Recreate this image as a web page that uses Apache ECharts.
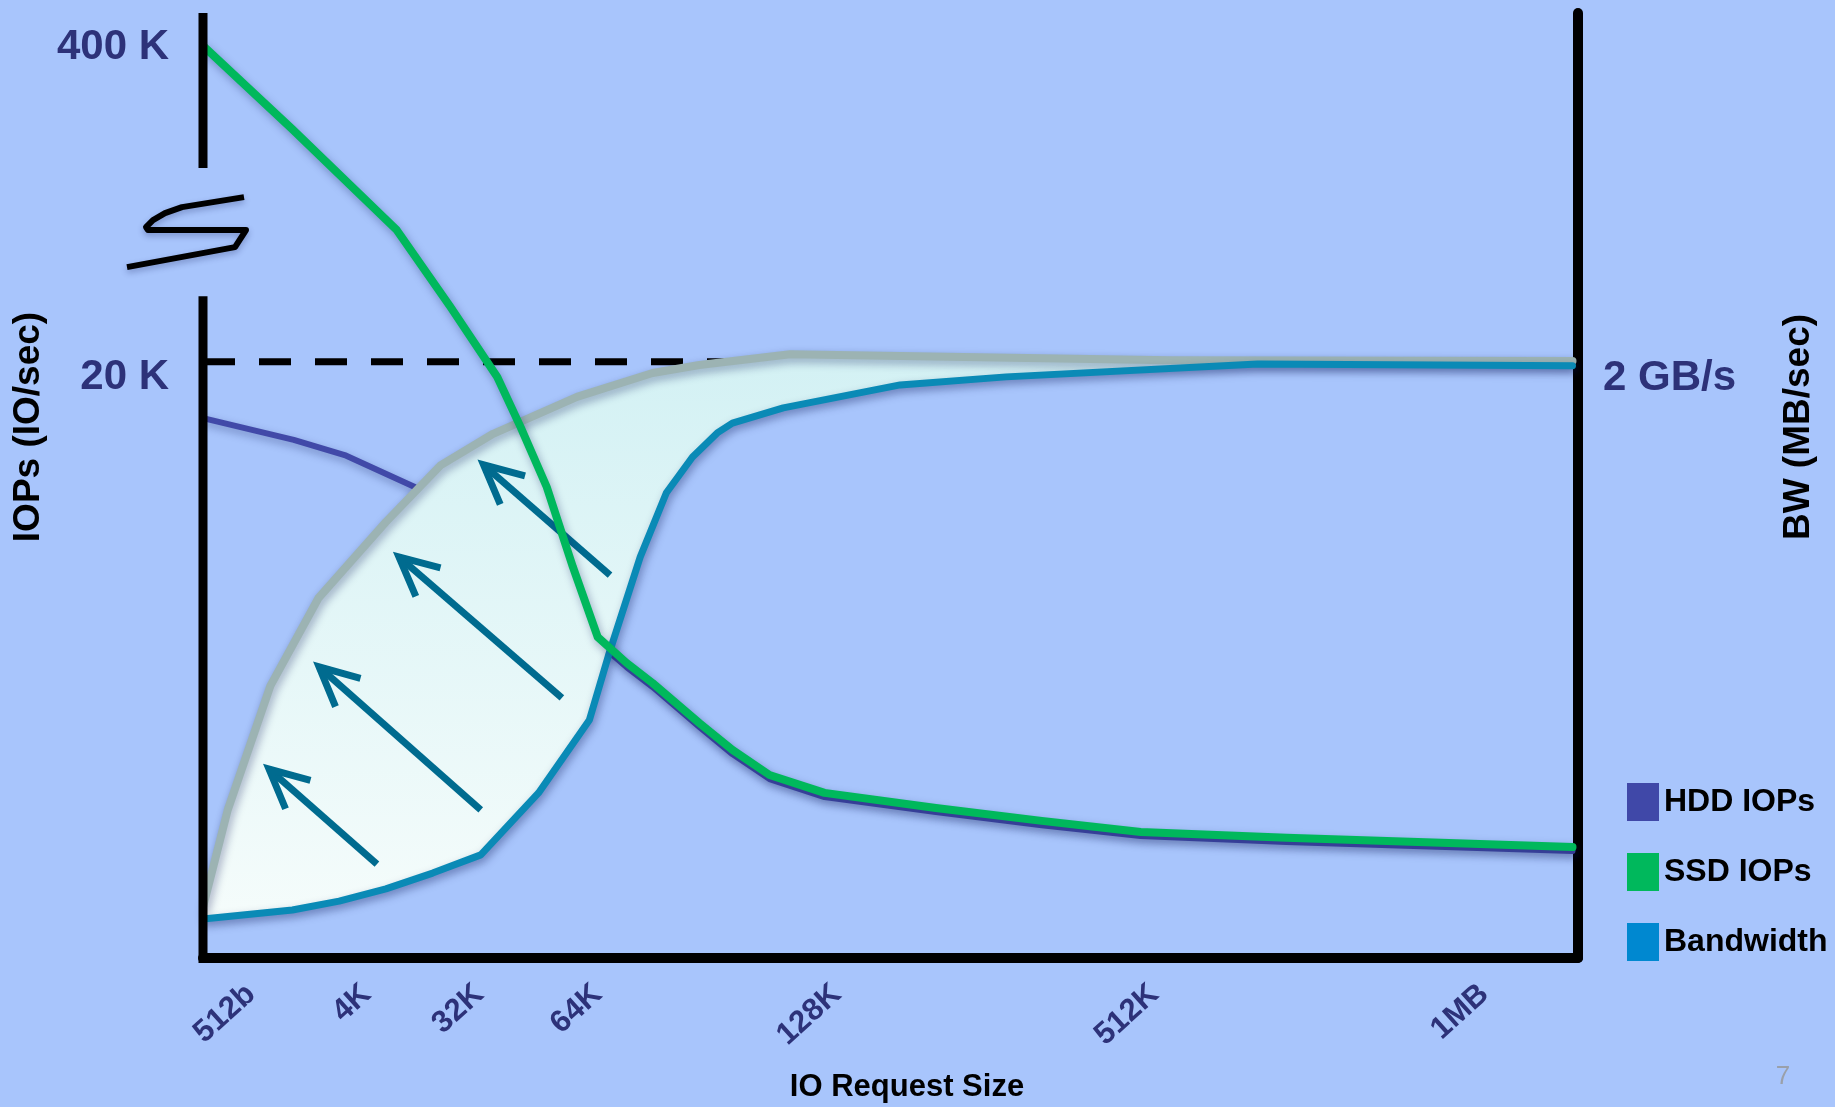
<!DOCTYPE html>
<html>
<head>
<meta charset="utf-8">
<title>IO Request Size vs IOPs and Bandwidth</title>
<script src="https://cdn.jsdelivr.net/npm/echarts@6/dist/echarts.min.js"></script>
<style>
  html, body { margin: 0; padding: 0; background: #a8c5fc; }
  #chart { width: 1835px; height: 1107px; }
</style>
</head>
<body>
<div id="chart"></div>
<script>
const FONT = '"Liberation Sans", Arial, Helvetica, sans-serif';
const NAVY = '#2d3279';

// Request-size axis: positions along the axis (0 = left edge, 100 = right edge)
const sizeLabels   = ['512b', '4K', '32K', '64K', '128K', '512K', '1MB'];
const sizeLabelPos = [3.5, 11.9, 20.1, 28.7, 46.1, 69.2, 93.2];

// SSD IOPs (IO/sec), left axis
const ssdX    = [0, 6.5, 14.1, 18.0, 21.4, 23.1, 25.0, 26.9, 28.7, 30.8, 32.7, 36.1, 38.5, 41.2, 45.2, 53.3, 61.0, 68.2, 78.8, 99.6];
const ssdIops = [400000, 397200, 214600, 21840, 19490, 17810, 15800, 13120, 10770, 9900, 9220, 7880, 6980, 6140, 5540, 5030, 4600, 4230, 4030, 3720];

// HDD IOPs (IO/sec), left axis
const hddX    = [0, 6.6, 10.3, 15.4, 29.2, 30.8, 32.7, 36.1, 38.5, 41.2, 45.2, 53.3, 61.0, 68.2, 78.8, 99.6];
const hddIops = [18110, 17380, 16870, 15800, 10400, 9760, 9090, 7750, 6840, 6000, 5400, 4900, 4450, 4090, 3890, 3590];

// Bandwidth (MB/sec), right axis
const bwX   = [0, 6.5, 9.9, 13.3, 16.7, 20.2, 24.4, 28.1, 29.5, 31.8, 33.7, 35.6, 37.4, 38.5, 42.2, 50.7, 58.4, 76.7, 99.6];
const bwMBs = [131, 161, 191, 232, 285, 346, 554, 799, 1017, 1346, 1561, 1681, 1762, 1795, 1846, 1923, 1950, 1993, 1987];

// Upper edge of the bandwidth gain region (MB/sec), right axis
const gainX   = [0, 1.8, 4.9, 8.4, 13.3, 17.3, 21.1, 27.2, 32.7, 36.1, 42.7, 50.7, 70.3, 99.6];
const gainMBs = [171, 497, 913, 1208, 1463, 1654, 1759, 1883, 1963, 1990, 2026, 2020, 2006, 2003];

// Arrows inside the gain region: [headX, headMBs, tailX, tailMBs]
const gainArrows = [
  [4.8, 634, 12.65, 315],
  [8.44, 977, 20.2, 497],
  [14.25, 1346, 26.1, 873],
  [20.4, 1655, 29.6, 1285]
];

// Axis ticks
const iopsTicks    = [20000, 400000];
const iopsTickText = ['20 K', '400 K'];
const bwTicks      = [2000];
const bwTickText   = ['2 GB/s'];
const iopsMax = 401100;
const iopsBreak = { start: 22200, end: 395900, gap: 4300 };
const bwMax = 3171;
const refIops = 20000;

const zip = (xs, ys) => xs.map((x, i) => [x, ys[i]]);

const lineShadow = {
  shadowColor: 'rgba(15, 25, 90, 0.35)',
  shadowBlur: 8,
  shadowOffsetX: 2,
  shadowOffsetY: 4
};

function renderGainBand(params, api) {
  const top = gainX.map((x, i) => api.coord([x, gainMBs[i]]));
  const bottom = bwX.map((x, i) => api.coord([x, bwMBs[i]])).reverse();
  return {
    type: 'polygon',
    shape: { points: top.concat(bottom) },
    style: {
      fill: new echarts.graphic.LinearGradient(0, 0, 0, 1, [
        { offset: 0, color: '#d3f1f4' },
        { offset: 1, color: '#f5fcfb' }
      ]),
      shadowColor: 'rgba(15, 25, 90, 0.3)',
      shadowBlur: 10,
      shadowOffsetY: 3
    }
  };
}

function renderArrow(params, api) {
  const h = api.coord([api.value(0), api.value(1)]);
  const t = api.coord([api.value(2), api.value(3)]);
  const ang = Math.atan2(t[1] - h[1], t[0] - h[0]);
  const len = 43, spread = 26 * Math.PI / 180;
  const b1 = [h[0] + len * Math.cos(ang - spread), h[1] + len * Math.sin(ang - spread)];
  const b2 = [h[0] + len * Math.cos(ang + spread), h[1] + len * Math.sin(ang + spread)];
  const st = { stroke: '#006b8f', lineWidth: 7, fill: null, lineCap: 'butt', lineJoin: 'miter' };
  return {
    type: 'group',
    children: [
      { type: 'line', shape: { x1: t[0], y1: t[1], x2: h[0], y2: h[1] }, style: st },
      { type: 'polyline', shape: { points: [b1, h, b2] }, style: st }
    ]
  };
}

const chart = echarts.init(document.getElementById('chart'), null, { renderer: 'canvas' });

chart.setOption({
  animation: false,
  backgroundColor: '#a8c5fc',
  grid: { left: 203, right: 257, top: 13, bottom: 149 },
  legend: {
    orient: 'vertical',
    left: 1627,
    top: 783,
    padding: 0,
    itemWidth: 32,
    itemHeight: 38,
    itemGap: 32,
    icon: 'rect',
    selectedMode: false,
    itemStyle: { borderWidth: 0 },
    textStyle: { fontFamily: FONT, fontSize: 32, fontWeight: 'bold', color: '#000' },
    data: [
      { name: 'HDD IOPs', itemStyle: { color: '#4048a8' } },
      { name: 'SSD IOPs', itemStyle: { color: '#00b85c' } },
      { name: 'Bandwidth', itemStyle: { color: '#0088d0' } }
    ]
  },
  xAxis: {
    type: 'value',
    min: 0,
    max: 100,
    axisLine: { show: true, onZero: false, lineStyle: { color: '#000', width: 10 } },
    axisTick: { show: false },
    splitLine: { show: false },
    axisLabel: {
      customValues: sizeLabelPos,
      formatter: (v) => {
        let best = 0;
        sizeLabelPos.forEach((p, i) => { if (Math.abs(p - v) < Math.abs(sizeLabelPos[best] - v)) best = i; });
        return sizeLabels[best];
      },
      rotate: 42,
      margin: 32,
      fontFamily: FONT,
      fontSize: 31,
      fontWeight: 'bold',
      color: NAVY
    }
  },
  yAxis: [
    {
      type: 'value',
      min: 0,
      max: iopsMax,
      breaks: [iopsBreak],
      breakArea: { show: false },
      axisLine: { show: false },
      axisTick: { show: false },
      splitLine: { show: false },
      axisLabel: {
        customValues: iopsTicks,
        margin: 34,
        formatter: (v) => {
          const i = iopsTicks.indexOf(v);
          return '{' + (i === 0 ? 'lo' : 'hi') + '|' + iopsTickText[i] + '}';
        },
        rich: {
          lo: { padding: [32, 0, 0, 0], fontFamily: FONT, fontSize: 42, fontWeight: 'bold', color: NAVY },
          hi: { padding: [4, 0, 0, 0], fontFamily: FONT, fontSize: 42, fontWeight: 'bold', color: NAVY }
        }
      }
    },
    {
      type: 'value',
      position: 'right',
      min: 0,
      max: bwMax,
      axisLine: { show: true, onZero: false, lineStyle: { color: '#000', width: 10 } },
      axisTick: { show: false },
      splitLine: { show: false },
      axisLabel: {
        customValues: bwTicks,
        margin: 25,
        formatter: (v) => '{a|' + bwTickText[bwTicks.indexOf(v)] + '}',
        rich: {
          a: { padding: [32, 0, 0, 0], fontFamily: FONT, fontSize: 42, fontWeight: 'bold', color: NAVY }
        }
      }
    }
  ],
  series: [
    {
      name: '20 K reference',
      type: 'line',
      yAxisIndex: 0,
      z: 1,
      silent: true,
      symbol: 'none',
      data: zip([0, 100], [refIops, refIops]),
      lineStyle: { color: '#000', width: 7, type: [32, 24] }
    },
    {
      name: 'HDD IOPs',
      type: 'line',
      yAxisIndex: 0,
      z: 2,
      symbol: 'none',
      data: zip(hddX, hddIops),
      itemStyle: { color: '#4048a8' },
      lineStyle: Object.assign({ color: '#4149a8', width: 6, cap: 'round', join: 'round' }, lineShadow)
    },
    {
      name: 'Bandwidth gain',
      type: 'custom',
      yAxisIndex: 1,
      z: 3,
      silent: true,
      data: [[0, 0]],
      renderItem: renderGainBand
    },
    {
      name: 'Bandwidth gain edge',
      type: 'line',
      yAxisIndex: 1,
      z: 4,
      symbol: 'none',
      silent: true,
      data: zip(gainX, gainMBs),
      lineStyle: Object.assign({ color: '#9cb3b3', width: 8, cap: 'round', join: 'round' }, lineShadow)
    },
    {
      name: 'Gain arrows',
      type: 'custom',
      yAxisIndex: 1,
      z: 5,
      silent: true,
      encode: { x: [0, 2], y: [1, 3] },
      data: gainArrows,
      renderItem: renderArrow
    },
    {
      name: 'Bandwidth',
      type: 'line',
      yAxisIndex: 1,
      z: 6,
      symbol: 'none',
      data: zip(bwX, bwMBs),
      itemStyle: { color: '#0088d0' },
      lineStyle: Object.assign({ color: '#0a8ab6', width: 7, cap: 'round', join: 'round' }, lineShadow)
    },
    {
      name: 'SSD IOPs',
      type: 'line',
      yAxisIndex: 0,
      z: 7,
      symbol: 'none',
      data: zip(ssdX, ssdIops),
      itemStyle: { color: '#00b85c' },
      lineStyle: Object.assign({ color: '#00b85c', width: 8, cap: 'round', join: 'round' }, lineShadow)
    }
  ]
});

// Broken left axis, break mark and titles placed from the axis scales
const axX   = chart.convertToPixel({ xAxisIndex: 0 }, 0);
const yZero = chart.convertToPixel({ yAxisIndex: 0 }, 0);
const yLo   = chart.convertToPixel({ yAxisIndex: 0 }, iopsBreak.start);
const yHi   = chart.convertToPixel({ yAxisIndex: 0 }, iopsBreak.end);
const yTop  = chart.convertToPixel({ yAxisIndex: 0 }, iopsMax);
const yMid  = (yLo + yHi) / 2;

const breakMark = [[41, -35], [-21, -25], [-38, -19], [-50, -12], [-57, -5], [-55, -2], [43, -2], [32, 15], [-76, 35]]
  .map(p => [axX + p[0], yMid + p[1]]);

chart.setOption({
  graphic: [
    { type: 'line', z: 50, shape: { x1: axX, y1: yZero + 5, x2: axX, y2: yLo }, style: { stroke: '#000', lineWidth: 9 } },
    { type: 'line', z: 50, shape: { x1: axX, y1: yHi, x2: axX, y2: yTop }, style: { stroke: '#000', lineWidth: 9 } },
    {
      type: 'polyline', z: 50,
      shape: { points: breakMark },
      style: {
        stroke: '#000', lineWidth: 6, fill: null, lineJoin: 'round', lineCap: 'butt',
        shadowColor: 'rgba(15, 25, 90, 0.3)', shadowBlur: 6, shadowOffsetY: 3
      }
    },
    {
      type: 'text', x: 29, y: 427, rotation: Math.PI / 2,
      style: { text: 'IOPs (IO/sec)', fontFamily: FONT, fontSize: 37, fontWeight: 'bold', fill: '#000', align: 'center', verticalAlign: 'middle' }
    },
    {
      type: 'text', x: 1799, y: 427, rotation: Math.PI / 2,
      style: { text: 'BW (MB/sec)', fontFamily: FONT, fontSize: 37, fontWeight: 'bold', fill: '#000', align: 'center', verticalAlign: 'middle' }
    },
    {
      type: 'text', x: 907, y: 1087,
      style: { text: 'IO Request Size', fontFamily: FONT, fontSize: 31, fontWeight: 'bold', fill: '#000', align: 'center', verticalAlign: 'middle' }
    },
    {
      type: 'text', x: 1783, y: 1077,
      style: { text: '7', fontFamily: FONT, fontSize: 26, fill: '#9aa0aa', align: 'center', verticalAlign: 'middle' }
    }
  ]
});
</script>
</body>
</html>
